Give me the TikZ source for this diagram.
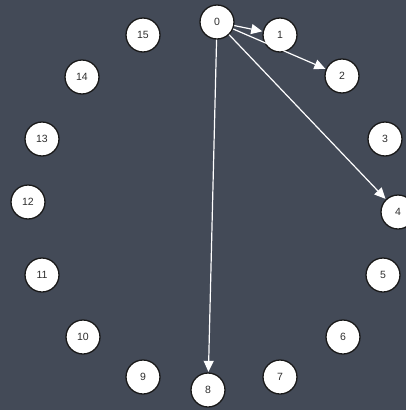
\documentclass[tikz,border=0pt]{standalone}
\usepackage{fontspec}
\setmainfont{Liberation Sans}
\usetikzlibrary{arrows.meta}
\definecolor{board}{HTML}{434A57}
\definecolor{ink}{HTML}{2E2E2E}

\begin{document}
\begin{tikzpicture}[x=1pt, y=-1pt,
  every node/.style={font=\fontsize{10.5}{10.5}\selectfont},
  ball/.style={circle, draw=black!90, line width=1.3pt, fill=white,
    text=ink, minimum size=34pt, inner sep=0pt},
  jump/.style={white, line width=1.2pt,
    -{Triangle[length=11pt, width=10pt]}, shorten >=0.5pt}]
  % board
  \fill[board] (0,0) rectangle (406,410);
  \clip (0,0) rectangle (406,410);
  % the sixteen balls
  \foreach \n/\x/\y in {0/217/22, 1/280/35, 2/342/76, 3/385/139,
      4/398/212, 5/383/275, 6/343/337, 7/280/377, 8/208/390,
      9/143/377, 10/83/337, 11/42/275, 12/28/202, 13/42/139,
      14/82/77, 15/143/35}
    \node[ball] (b\n) at (\x,\y) {\n};
  % jumps from 0
  \draw[jump] (b0) -- (b1);
  \draw[jump] (b0) -- (b2);
  \draw[jump] (b0) -- (b4);
  \draw[jump] (b0) -- (b8);
\end{tikzpicture}
\end{document}
